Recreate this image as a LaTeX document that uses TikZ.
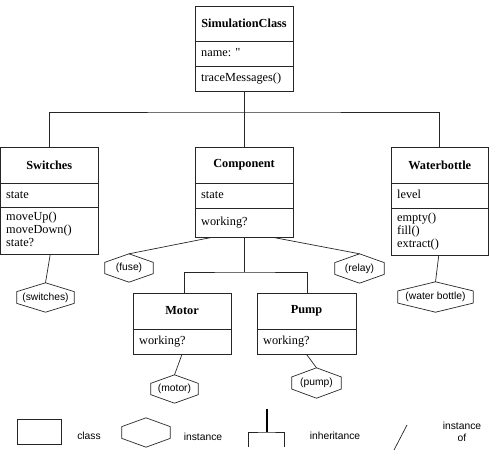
\documentclass[tikz,border=0pt]{standalone}
\usepackage{fontspec}
\setmainfont{Liberation Serif}
\setsansfont{Liberation Sans}
\newfontfamily\rawserif{Liberation Serif}
\usetikzlibrary{calc}
\newcommand\hexa[1]{\draw[ln] ($(#1.north west)!0.3!(#1.south west)$) -- (#1.north) -- ($(#1.north east)!0.3!(#1.south east)$) -- ($(#1.north east)!0.7!(#1.south east)$) -- (#1.south) -- ($(#1.north west)!0.7!(#1.south west)$) -- cycle;}
\begin{document}
\begin{tikzpicture}[x=1pt,y=-1pt,
 ln/.style={draw=black!85, line width=0.7pt},
 cls/.style={ln, inner sep=0pt},
 title/.style={font=\fontsize{12.3}{14}\selectfont\bfseries, inner sep=0pt},
 attr/.style={font=\fontsize{12.3}{13}\selectfont, inner sep=0pt, anchor=west, text height=8.5pt, text depth=2.5pt},
 meth/.style={font=\fontsize{12.3}{13}\selectfont, inner sep=0pt, anchor=north west, align=left},
 inst/.style={inner sep=0pt, font=\sffamily\fontsize{10.3}{12}\selectfont},
 lbl/.style={inner sep=0pt, font=\sffamily\fontsize{10.3}{12}\selectfont, align=center}]
\useasboundingbox (0,0) rectangle (489,460);

% SimulationClass
\node[cls, minimum width=98pt, minimum height=85pt] (sim) at (244,48.5) {};
\draw[ln] (sim.west |- 0,41) -- (sim.east |- 0,41);
\draw[ln] (sim.west |- 0,66) -- (sim.east |- 0,66);
\node[title] (simt) at (244,23.5) {SimulationClass};
\node[attr] (sima) at (201,53.5) {name: {\rawserif "}};
\node[attr] (simm) at (201,78.5) {traceMessages()};

% Switches
\node[cls, minimum width=97.5pt, minimum height=107pt] (sw) at (49.25,200.5) {};
\draw[ln] (sw.west |- 0,183) -- (sw.east |- 0,183);
\draw[ln] (sw.west |- 0,207) -- (sw.east |- 0,207);
\node[title] (swt) at (49.25,165) {Switches};
\node[attr] (swa) at (6,195) {state};
\node[meth] (swm) at (6,211.5) {moveUp()\\moveDown()\\state?};

% Component
\node[cls, minimum width=98pt, minimum height=90pt] (comp) at (244,192) {};
\draw[ln] (comp.west |- 0,183) -- (comp.east |- 0,183);
\draw[ln] (comp.west |- 0,208) -- (comp.east |- 0,208);
\node[title] (compt) at (244,165) {Component};
\node[attr] (compa) at (201,195.5) {state};
\node[attr] (compm) at (201,222.5) {working?};

% Waterbottle
\node[cls, minimum width=97.5pt, minimum height=108pt] (wb) at (439.75,201) {};
\draw[ln] (wb.west |- 0,183) -- (wb.east |- 0,183);
\draw[ln] (wb.west |- 0,208) -- (wb.east |- 0,208);
\node[title] (wbt) at (439.75,165) {Waterbottle};
\node[attr] (wba) at (397,195.5) {level};
\node[meth] (wbm) at (397,212.5) {empty()\\fill()\\extract()};

% Motor
\node[cls, minimum width=98pt, minimum height=61pt] (motor) at (182,323.5) {};
\draw[ln] (motor.west |- 0,329) -- (motor.east |- 0,329);
\node[title] (motort) at (182,311) {Motor};
\node[attr] (motora) at (139,341.5) {working?};

% Pump
\node[cls, minimum width=99pt, minimum height=61pt] (pump) at (306.5,323.5) {};
\draw[ln] (pump.west |- 0,329) -- (pump.east |- 0,329);
\node[title] (pumpt) at (306.5,311) {Pump};
\node[attr] (pumpa) at (263,341.5) {working?};

% inheritance connectors
\coordinate (j1) at (244,112);
\draw[ln] (sim.south) -- (comp.north);
\draw[ln] (sw.north) |- (j1) -| (wb.north);
\coordinate (j2) at (244,272);
\draw[ln] (comp.south) -- (j2);
\draw[ln] ([xshift=2pt]motor.north) |- (j2) -| ([xshift=0.5pt]pump.north);

% instances
\node[inst, minimum width=57pt, minimum height=29pt] (isw) at (45.5,297.5) {(switches)};
\hexa{isw}
\node[inst, minimum width=48pt, minimum height=28pt] (ifuse) at (129,268) {(fuse)};
\hexa{ifuse}
\node[inst, minimum width=49pt, minimum height=29pt] (irelay) at (359.5,268.5) {(relay)};
\hexa{irelay}
\node[inst, minimum width=75pt, minimum height=30pt] (iwb) at (435.5,297) {(water bottle)};
\hexa{iwb}
\node[inst, minimum width=47pt, minimum height=28pt] (imotor) at (174.5,389) {(motor)};
\hexa{imotor}
\node[inst, minimum width=49pt, minimum height=30pt] (ipump) at (316.5,383) {(pump)};
\hexa{ipump}

% instance-of connectors
\draw[ln] ([xshift=1pt]sw.south) -- (isw.north);
\draw[ln] ([xshift=-32pt]comp.south) -- (ifuse.north);
\draw[ln] ([xshift=29pt]comp.south) -- (irelay.north);
\draw[ln] ([xshift=-1pt]wb.south) -- (iwb.north);
\draw[ln] (motor.south) -- (imotor.north);
\draw[ln] (pump.south) -- (ipump.north);

% legend
\node[cls, minimum width=44pt, minimum height=25pt] (lrect) at (39,431.5) {};
\node[lbl] (lclass) at (89,436) {class};
\node[inst, minimum width=48pt, minimum height=29pt] (lhex) at (146,432.5) {};
\hexa{lhex}
\node[lbl] (linst) at (203,437) {instance};
\coordinate (lt) at (267,409);
\coordinate (lj) at (267,432);
\coordinate (ll) at (248,447);
\coordinate (lr) at (284,447);
\draw[draw=black, line width=1.1pt] (lt) -- (lj);
\draw[ln] (ll) |- (lj) -| (lr);
\node[lbl] (linh) at (335,436) {inheritance};
\coordinate (sa) at (407,425);
\coordinate (sb) at (394,450);
\draw[ln] (sa) -- (sb);
\node[lbl] (linstof) at (462,432) {instance\\of};
\end{tikzpicture}
\end{document}
